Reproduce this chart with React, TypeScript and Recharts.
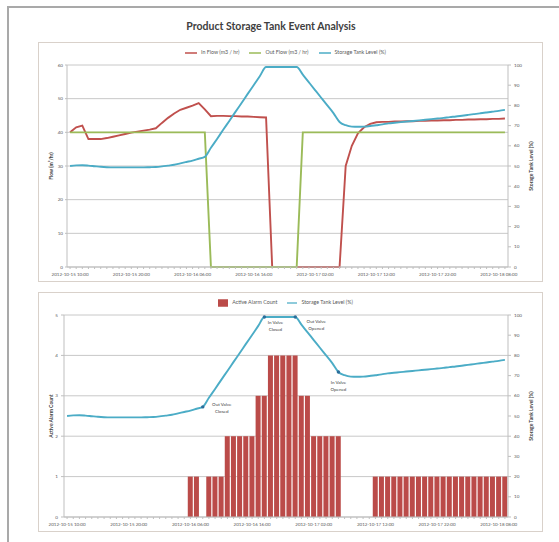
import { ComposedChart, Line, Bar, XAxis, YAxis, CartesianGrid, Legend } from 'recharts';

// hourly samples, 2012-10-15 10:00 .. 2012-10-18 09:00
const times = [
  '2012-10-15 10:00', '2012-10-15 11:00', '2012-10-15 12:00', '2012-10-15 13:00', '2012-10-15 14:00', '2012-10-15 15:00',
  '2012-10-15 16:00', '2012-10-15 17:00', '2012-10-15 18:00', '2012-10-15 19:00', '2012-10-15 20:00', '2012-10-15 21:00',
  '2012-10-15 22:00', '2012-10-15 23:00', '2012-10-16 00:00', '2012-10-16 01:00', '2012-10-16 02:00', '2012-10-16 03:00',
  '2012-10-16 04:00', '2012-10-16 05:00', '2012-10-16 06:00', '2012-10-16 07:00', '2012-10-16 08:00', '2012-10-16 09:00',
  '2012-10-16 10:00', '2012-10-16 11:00', '2012-10-16 12:00', '2012-10-16 13:00', '2012-10-16 14:00', '2012-10-16 15:00',
  '2012-10-16 16:00', '2012-10-16 17:00', '2012-10-16 18:00', '2012-10-16 19:00', '2012-10-16 20:00', '2012-10-16 21:00',
  '2012-10-16 22:00', '2012-10-16 23:00', '2012-10-17 00:00', '2012-10-17 01:00', '2012-10-17 02:00', '2012-10-17 03:00',
  '2012-10-17 04:00', '2012-10-17 05:00', '2012-10-17 06:00', '2012-10-17 07:00', '2012-10-17 08:00', '2012-10-17 09:00',
  '2012-10-17 10:00', '2012-10-17 11:00', '2012-10-17 12:00', '2012-10-17 13:00', '2012-10-17 14:00', '2012-10-17 15:00',
  '2012-10-17 16:00', '2012-10-17 17:00', '2012-10-17 18:00', '2012-10-17 19:00', '2012-10-17 20:00', '2012-10-17 21:00',
  '2012-10-17 22:00', '2012-10-17 23:00', '2012-10-18 00:00', '2012-10-18 01:00', '2012-10-18 02:00', '2012-10-18 03:00',
  '2012-10-18 04:00', '2012-10-18 05:00', '2012-10-18 06:00', '2012-10-18 07:00', '2012-10-18 08:00', '2012-10-18 09:00',
];

const inFlow = [
  40, 41.5, 42, 38, 38, 38, 38.3, 38.7, 39.1, 39.5, 39.9, 40.2,
  40.5, 40.8, 41.2, 42.8, 44.3, 45.6, 46.7, 47.3, 47.9, 48.7, 46.8, 44.8,
  44.9, 44.9, 44.8, 44.8, 44.7, 44.7, 44.6, 44.5, 44.4, 0, 0, 0,
  0, 0, 0, 0, 0, 0, 0, 0, 0, 30, 36, 39.7,
  41.5, 42.5, 43, 43.1, 43.1, 43.2, 43.2, 43.3, 43.3, 43.4, 43.4, 43.5,
  43.5, 43.6, 43.6, 43.7, 43.7, 43.8, 43.8, 43.9, 43.9, 44, 44, 44.1,
];

const outFlow = [
  40, 40, 40, 40, 40, 40, 40, 40, 40, 40, 40, 40,
  40, 40, 40, 40, 40, 40, 40, 40, 40, 40, 40, 0,
  0, 0, 0, 0, 0, 0, 0, 0, 0, 0, 0, 0,
  0, 0, 40, 40, 40, 40, 40, 40, 40, 40, 40, 40,
  40, 40, 40, 40, 40, 40, 40, 40, 40, 40, 40, 40,
  40, 40, 40, 40, 40, 40, 40, 40, 40, 40, 40, 40,
];

const tankLevel = [
  50, 50.3, 50.4, 50.2, 49.9, 49.6, 49.4, 49.3, 49.3, 49.3, 49.3, 49.3,
  49.3, 49.4, 49.5, 49.8, 50.2, 50.6, 51.3, 52, 52.7, 53.6, 54.5, 59,
  63.4, 67.9, 72.3, 76.8, 81.2, 85.7, 90.1, 94.6, 99, 99, 99, 99,
  99, 99, 95.2, 91.4, 87.6, 83.8, 80, 76.2, 71.8, 70.2, 69.5, 69.4,
  69.5, 69.8, 70.2, 70.6, 71.1, 71.4, 71.7, 72, 72.3, 72.6, 72.9, 73.2,
  73.5, 73.8, 74.2, 74.5, 74.9, 75.3, 75.7, 76.1, 76.5, 76.9, 77.3, 77.8,
];

const alarmCount = [
  0, 0, 0, 0, 0, 0, 0, 0, 0, 0, 0, 0,
  0, 0, 0, 0, 0, 0, 0, 0, 1, 1, 0, 1,
  1, 1, 2, 2, 2, 2, 2, 3, 3, 4, 4, 4,
  4, 4, 3, 3, 2, 2, 2, 2, 2, 0, 0, 0,
  0, 0, 1, 1, 1, 1, 1, 1, 1, 1, 1, 1,
  1, 1, 1, 1, 1, 1, 1, 1, 1, 1, 1, 1,
];

const flowTicks = [0, 10, 20, 30, 40, 50, 60];
const levelTicks = [0, 10, 20, 30, 40, 50, 60, 70, 80, 90, 100];
const alarmTicks = [0, 1, 2, 3, 4, 5];

const valveEvents = [
  { index: 22, text: ['Out Valve', 'Closed'] },
  { index: 32, text: ['In Valve', 'Closed'] },
  { index: 37, text: ['Out Valve', 'Opened'] },
  { index: 44, text: ['In Valve', 'Opened'] },
];

const flowData = times.map((t, i) => ({ time: t, inFlow: inFlow[i], outFlow: outFlow[i], level: tankLevel[i] }));
const alarmData = times.map((t, i) => ({ time: t, alarms: alarmCount[i], level: tankLevel[i] }));

const RED = '#c0504d';
const GREEN = '#9bbb59';
const BLUE = '#4bacc6';
const GRID = '#c8c8c8';
const TEXT = '#595959';

// where each callout sits relative to its marker
const calloutOffset: Record<number, [number, number]> = {
  22: [19, -3],
  32: [11, 5],
  37: [21, 4],
  44: [0, 10],
};

function TimeTick({ x, y, payload, index }: any) {
  if (index % 10 !== 0) return <g />;
  return (
    <text x={x} y={y + 5} textAnchor="middle" fontSize={4.5} fill={TEXT}>
      {payload.value}
    </text>
  );
}

function ValveDot({ cx, cy, index }: any) {
  const ev = valveEvents.find((e) => e.index === index);
  if (!ev) return <g key={index} />;
  const [dx, dy] = calloutOffset[index];
  return (
    <g key={index}>
      <circle cx={cx} cy={cy} r={1.7} fill="#2c6e9b" />
      {ev.text.map((line, k) => (
        <text key={k} x={cx + dx} y={cy + dy + 1.6 + k * 7} textAnchor="middle" fontSize={4.5} fill="#404040">
          {line}
        </text>
      ))}
    </g>
  );
}

const legendFmt = (value: string) => <span style={{ color: TEXT }}>{value}</span>;

const panel: React.CSSProperties = {
  position: 'absolute',
  left: 38,
  width: 503,
  height: 238,
  border: '1px solid #d9d1ca',
  background: '#fff',
};

const tickStyle = { fontSize: 4.6, fill: TEXT };
const axisTitle = { fontSize: 5, fontWeight: 700, fill: '#404040' };

export default function App() {
  return (
    <div style={{ position: 'absolute', left: 0, top: 0, width: 559, height: 542, background: '#fff', fontFamily: 'Lato, sans-serif' }}>
      <div style={{ position: 'absolute', left: 7, top: 6, width: 560, height: 540, borderTop: '2px solid #a9a9a9', borderLeft: '2px solid #a9a9a9' }} />
      <div style={{ position: 'absolute', left: 0, top: 20, width: 542, textAlign: 'center', fontSize: 10.5, fontWeight: 700, color: '#404040' }}>
        Product Storage Tank Event Analysis
      </div>

      <div style={{ ...panel, top: 42 }}>
        <ComposedChart width={503} height={238} data={flowData} margin={{ top: 11, right: 0, bottom: 0, left: 0 }}>
          <CartesianGrid yAxisId="flow" vertical={false} stroke={GRID} />
          <XAxis
            dataKey="time"
            scale="band"
            interval={0}
            tick={<TimeTick />}
            tickSize={2}
            tickLine={{ stroke: '#bfbfbf' }}
            axisLine={{ stroke: '#bfbfbf' }}
            height={14}
          />
          <YAxis
            yAxisId="flow"
            domain={[0, 60]}
            ticks={flowTicks}
            width={28}
            tick={tickStyle}
            tickSize={2}
            tickMargin={2}
            tickLine={{ stroke: '#bfbfbf' }}
            axisLine={{ stroke: '#bfbfbf' }}
            label={{ value: 'Flow (m³/hr)', angle: -90, position: 'center', dx: -2, style: axisTitle }}
          />
          <YAxis
            yAxisId="level"
            orientation="right"
            domain={[0, 100]}
            ticks={levelTicks}
            width={34}
            tick={tickStyle}
            tickSize={3}
            tickMargin={3}
            tickLine={{ stroke: '#bfbfbf' }}
            axisLine={{ stroke: '#bfbfbf' }}
            label={{ value: 'Storage Tank Level (%)', angle: -90, position: 'center', dx: 6, style: axisTitle }}
          />
          <Legend
            verticalAlign="top"
            iconSize={12}
            formatter={legendFmt}
            wrapperStyle={{ top: 4, height: 11, lineHeight: '11px', fontSize: 5.3 }}
          />
          <Line yAxisId="flow" type="linear" dataKey="inFlow" name="In Flow (m3 / hr)" stroke={RED} strokeWidth={1.9} dot={false} legendType="plainline" isAnimationActive={false} />
          <Line yAxisId="flow" type="linear" dataKey="outFlow" name="Out Flow (m3 / hr)" stroke={GREEN} strokeWidth={1.9} dot={false} legendType="plainline" isAnimationActive={false} />
          <Line yAxisId="level" type="monotone" dataKey="level" name="Storage Tank Level (%)" stroke={BLUE} strokeWidth={1.9} dot={false} legendType="plainline" isAnimationActive={false} />
        </ComposedChart>
      </div>

      <div style={{ ...panel, top: 292 }}>
        <ComposedChart width={503} height={238} data={alarmData} barCategoryGap="7%" margin={{ top: 11, right: 0, bottom: 0, left: 0 }}>
          <CartesianGrid yAxisId="count" vertical={false} stroke={GRID} />
          <XAxis
            dataKey="time"
            scale="band"
            interval={0}
            tick={<TimeTick />}
            tickSize={2}
            tickLine={{ stroke: '#bfbfbf' }}
            axisLine={{ stroke: '#bfbfbf' }}
            height={14}
          />
          <YAxis
            yAxisId="count"
            domain={[0, 5]}
            ticks={alarmTicks}
            width={25}
            tick={tickStyle}
            tickSize={3}
            tickMargin={3}
            tickLine={{ stroke: '#bfbfbf' }}
            axisLine={{ stroke: '#bfbfbf' }}
            label={{ value: 'Active Alarm Count', angle: -90, position: 'center', dx: 0, style: axisTitle }}
          />
          <YAxis
            yAxisId="level"
            orientation="right"
            domain={[0, 100]}
            ticks={levelTicks}
            width={34}
            tick={tickStyle}
            tickSize={3}
            tickMargin={3}
            tickLine={{ stroke: '#bfbfbf' }}
            axisLine={{ stroke: '#bfbfbf' }}
            label={{ value: 'Storage Tank Level (%)', angle: -90, position: 'center', dx: 6, style: axisTitle }}
          />
          <Legend
            verticalAlign="top"
            iconSize={10}
            formatter={legendFmt}
            wrapperStyle={{ top: 4, height: 11, lineHeight: '11px', fontSize: 5.3 }}
          />
          <Bar yAxisId="count" dataKey="alarms" name="Active Alarm Count" fill="#bb4b49" legendType="rect" isAnimationActive={false} />
          <Line yAxisId="level" type="monotone" dataKey="level" name="Storage Tank Level (%)" stroke={BLUE} strokeWidth={1.9} dot={<ValveDot />} activeDot={false} legendType="plainline" isAnimationActive={false} />
        </ComposedChart>
      </div>
    </div>
  );
}
